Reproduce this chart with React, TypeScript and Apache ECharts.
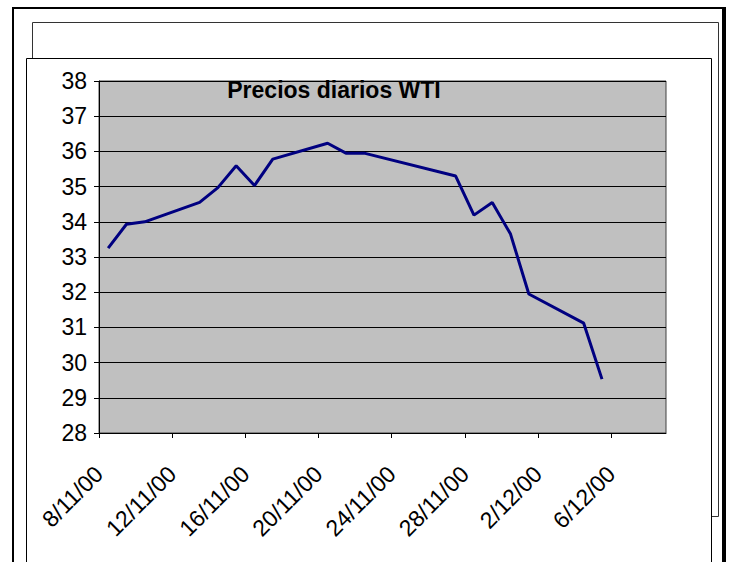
import React, { useEffect, useRef } from "react";
import * as echarts from "echarts";

const dates = [
  "2000-11-08", "2000-11-09", "2000-11-10", "2000-11-13", "2000-11-14",
  "2000-11-15", "2000-11-16", "2000-11-17", "2000-11-20", "2000-11-21",
  "2000-11-22", "2000-11-27", "2000-11-28", "2000-11-29", "2000-11-30",
  "2000-12-01", "2000-12-04", "2000-12-05",
];
const prices = [
  33.25, 33.93, 34.0, 34.55, 34.97, 35.59, 35.03, 35.78, 36.23, 35.95,
  35.95, 35.3, 34.19, 34.55, 33.65, 31.95, 31.12, 29.53,
];
const tickLabels = ["8/11/00", "12/11/00", "16/11/00", "20/11/00", "24/11/00", "28/11/00", "2/12/00", "6/12/00"];
const yTicks = [28, 29, 30, 31, 32, 33, 34, 35, 36, 37, 38];

const START = Date.UTC(2000, 10, 8);
const DAY = 86400000;
const dayOf = (d: string) => (Date.parse(d + "T00:00:00Z") - START) / DAY;

export default function App() {
  const ref = useRef<HTMLDivElement>(null);
  useEffect(() => {
    if (!ref.current) return;
    const chart = echarts.init(ref.current, undefined, { renderer: "svg" });
    const font = "'Liberation Sans', Arial, sans-serif";
    const tickVals = tickLabels.map((_, i) => i * 4);
    chart.setOption({
      animation: false,
      backgroundColor: "#ffffff",
      graphic: [
        { type: "rect", z: -20, silent: true, shape: { x: 13, y: 8, width: 711, height: 600 }, style: { fill: "#fff", stroke: "#000", lineWidth: 2 } },
        { type: "line", z: -19, silent: true, shape: { x1: 724, y1: 7, x2: 724, y2: 562 }, style: { stroke: "#000", lineWidth: 4 } },
        { type: "rect", z: -18, silent: true, shape: { x: 32.5, y: 22.5, width: 686, height: 494 }, style: { fill: "#fff", stroke: "#333", lineWidth: 1 } },
        { type: "rect", z: -17, silent: true, shape: { x: 26.5, y: 58.5, width: 685, height: 600 }, style: { fill: "#fff", stroke: "#000", lineWidth: 1 } },
        {
          type: "text", z: 100, silent: true, x: 334, y: 90,
          style: { text: "Precios diarios WTI", font: `bold 23px ${font}`, fill: "#000", align: "center", verticalAlign: "middle" },
        },
      ],
      grid: {
        left: 99, right: 64, top: 81, bottom: 129,
        show: true, backgroundColor: "#C0C0C0", borderColor: "#404040", borderWidth: 1,
      },
      xAxis: {
        type: "value", min: 0, max: 31, interval: 4,
        axisLine: { show: true, lineStyle: { color: "#000", width: 1 } },
        axisTick: { show: true, inside: false, length: 5, lineStyle: { color: "#000" }, customValues: tickVals },
        splitLine: { show: false },
        axisLabel: {
          customValues: tickVals,
          rotate: 45, margin: 37, color: "#000", fontSize: 23, fontFamily: font,
          formatter: (v: number) => tickLabels[Math.round(v / 4)] ?? "",
        },
      },
      yAxis: {
        type: "value", min: yTicks[0], max: yTicks[yTicks.length - 1], interval: 1,
        axisLine: { show: true, lineStyle: { color: "#000", width: 1 } },
        axisTick: { show: true, inside: false, length: 5, lineStyle: { color: "#000" } },
        splitLine: { show: true, lineStyle: { color: "#000", width: 1 } },
        axisLabel: { margin: 12, color: "#000", fontSize: 23, fontFamily: font },
      },
      series: [
        {
          type: "line",
          data: dates.map((d, i) => [dayOf(d) + 0.5, prices[i]]),
          showSymbol: false,
          symbol: "none",
          lineStyle: { color: "#000080", width: 3 },
          z: 5,
        },
      ],
    });
    return () => chart.dispose();
  }, []);
  return <div ref={ref} style={{ position: "absolute", left: 0, top: 0, width: 730, height: 562 }} />;
}
